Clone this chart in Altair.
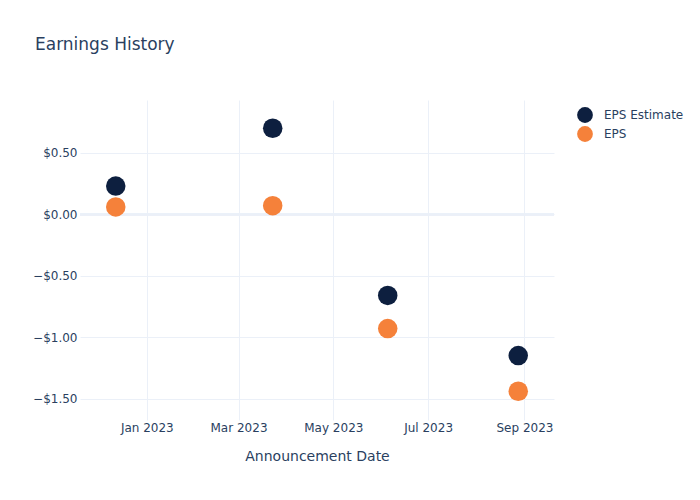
import altair as alt
import pandas as pd

dates = ["2022-12-12", "2023-03-23", "2023-06-05", "2023-08-28"]
eps_estimate = [0.23, 0.70, -0.66, -1.15]
eps_actual = [0.06, 0.07, -0.93, -1.44]
series = ["EPS Estimate", "EPS"]
colors = ["#0d1f3f", "#f5813a"]

rows = []
for d, e in zip(dates, eps_estimate):
    rows.append({"date": d + "T00:00:00", "series": "EPS Estimate", "value": e})
for d, v in zip(dates, eps_actual):
    rows.append({"date": d + "T00:00:00", "series": "EPS", "value": v})
df = pd.DataFrame(rows)

FONT = "DejaVu Sans"
TXT = "#2a3f5f"
GRID = "#ebf0f8"

x_ticks = [alt.DateTime(year=2023, month=m, date=1) for m in (1, 3, 5, 7, 9)]

points = alt.Chart(df).mark_circle(size=380, opacity=1).encode(
    x=alt.X(
        "date:T",
        title="Announcement Date",
        scale=alt.Scale(domain=[alt.DateTime(year=2022, month=11, date=19),
                                alt.DateTime(year=2023, month=9, date=20)]),
        axis=alt.Axis(values=x_ticks, format="%b %Y", grid=True, gridColor=GRID,
                      domain=False, ticks=False, labelPadding=2, titlePadding=16,
                      labelFontSize=12, titleFontSize=14, labelColor=TXT,
                      titleColor=TXT, titleFontWeight="normal", labelFont=FONT,
                      titleFont=FONT),
    ),
    y=alt.Y(
        "value:Q",
        title=None,
        scale=alt.Scale(domain=[-1.674, 0.93], nice=False, zero=False),
        axis=alt.Axis(values=[-1.5, -1.0, -0.5, 0.0, 0.5], grid=True, gridColor=GRID,
                      domain=False, ticks=False, labelPadding=3, labelFontSize=12,
                      labelColor=TXT, labelFont=FONT,
                      labelExpr="datum.value < 0 ? '\u2212$' + format(-datum.value, '.2f') : '$' + format(datum.value, '.2f')"),
    ),
    color=alt.Color(
        "series:N",
        scale=alt.Scale(domain=series, range=colors),
        legend=alt.Legend(title=None, orient="none", legendX=496, legendY=6,
                          symbolType="circle", symbolSize=250, symbolOpacity=1,
                          labelFontSize=12, labelColor=TXT, labelFont=FONT,
                          labelOffset=10, rowPadding=2, padding=0),
    ),
)

zero = alt.Chart(df).mark_rule(color=GRID, strokeWidth=2).encode(y=alt.datum(0))

chart = alt.layer(zero, points).properties(
    width=474,
    height=320,
    padding={"left": 80, "top": 100, "right": 146, "bottom": 80},
    autosize=alt.AutoSizeParams(type="none"),
    title=alt.Title("Earnings History", anchor="start", frame="group", dx=-45,
                    offset=46, fontSize=17, font=FONT, color=TXT,
                    fontWeight="normal"),
).configure(background="white").configure_view(strokeWidth=0, stroke="transparent")

chart.save("out.html", embed_options={"renderer": "svg", "actions": False})
